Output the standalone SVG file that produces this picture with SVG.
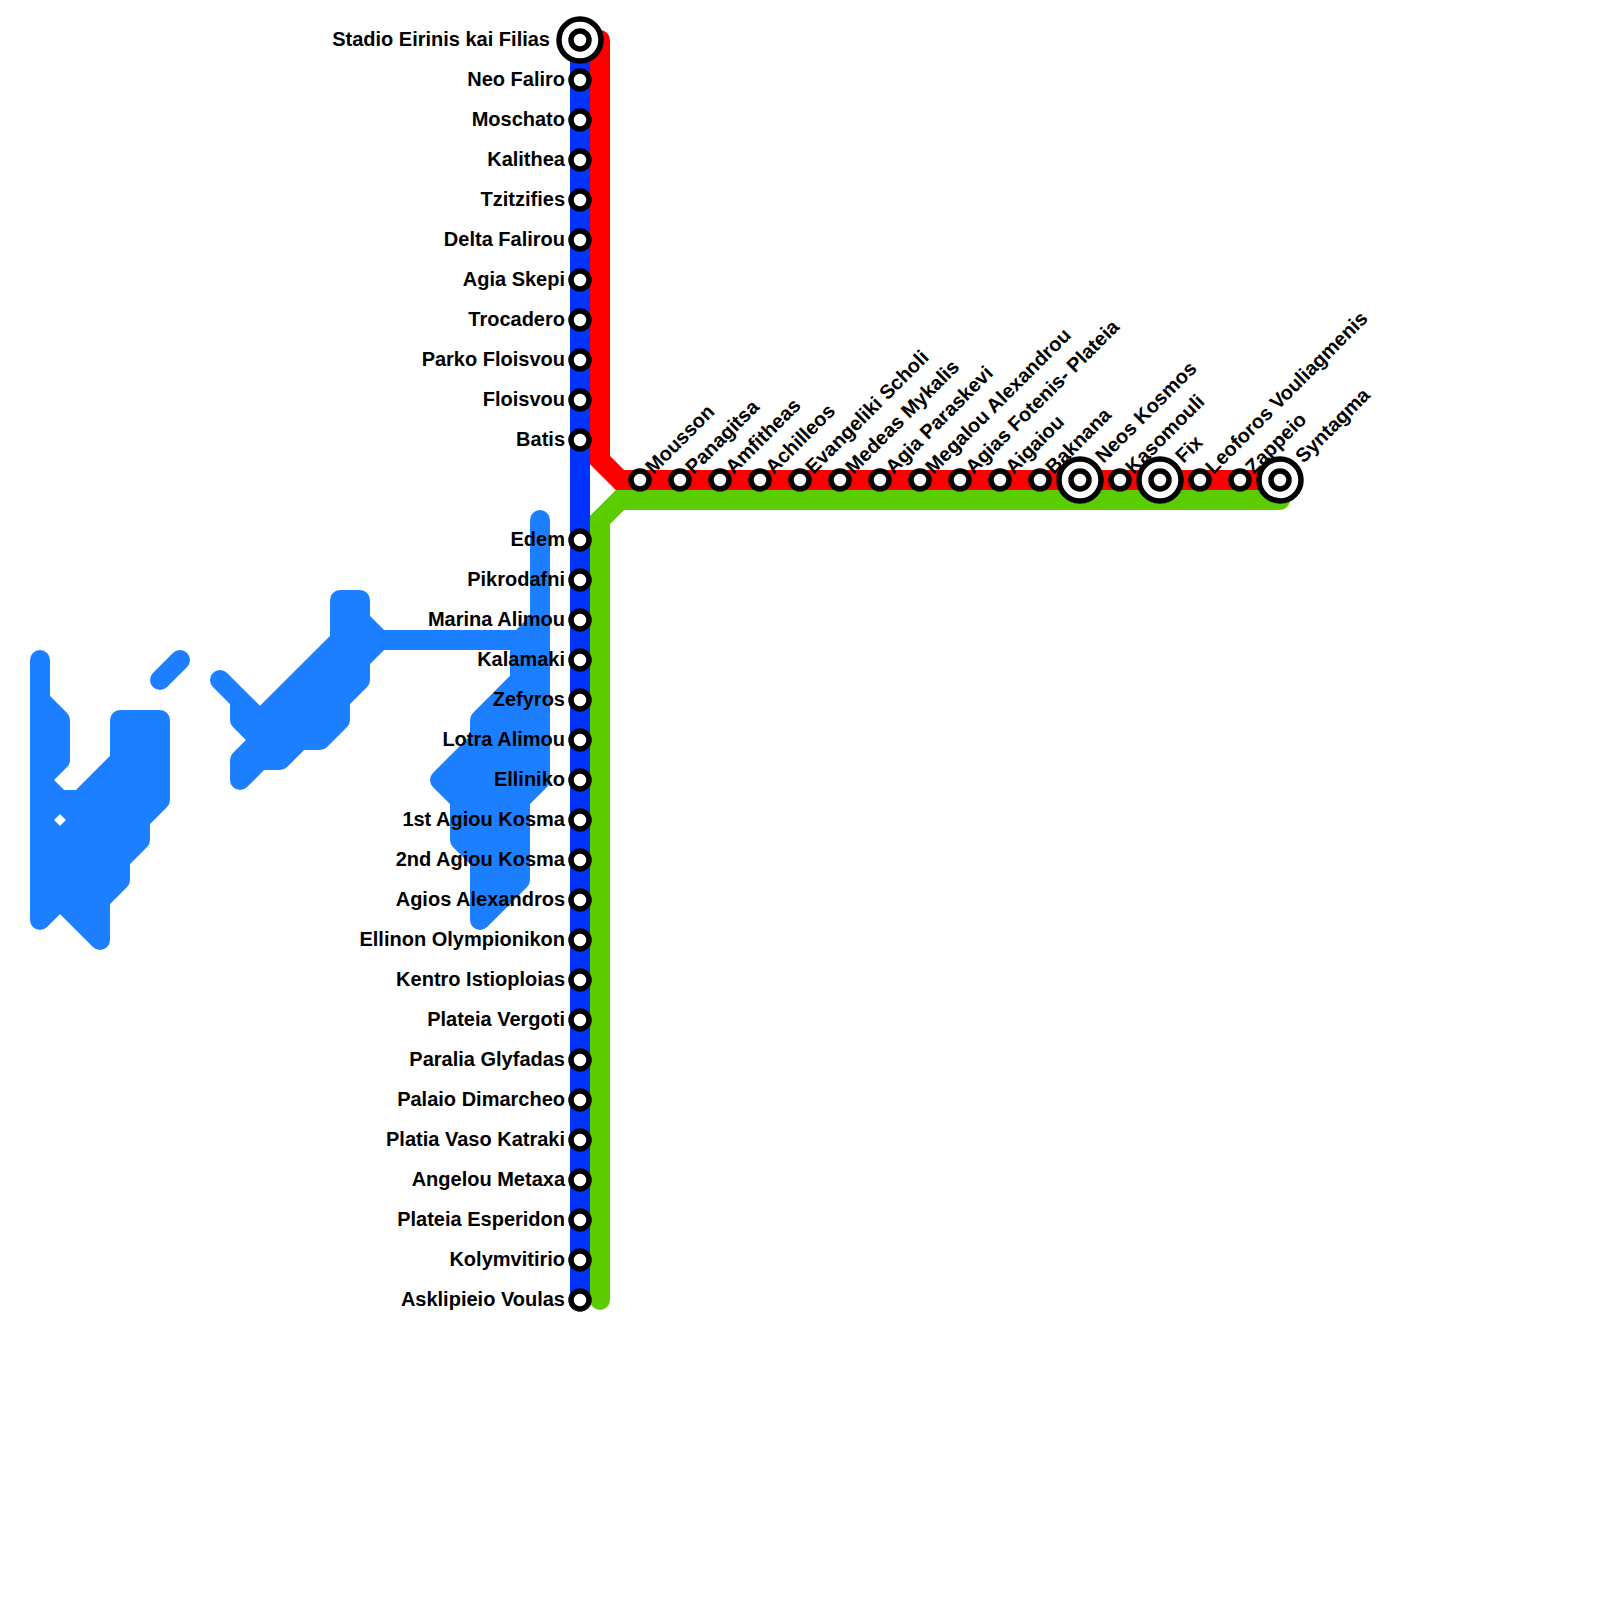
<svg xmlns="http://www.w3.org/2000/svg" width="1600" height="1600" viewBox="0 0 1600 1600">
<style>
.w{fill:#1c7fff;stroke:#1c7fff;stroke-width:20;stroke-linejoin:round;stroke-linecap:round;fill-rule:evenodd}
.l{fill:none;stroke-width:20;stroke-linejoin:miter;stroke-linecap:round}
.s{fill:#fff;stroke:#000;stroke-width:5.5}
text{font-family:"Liberation Sans",Arial,sans-serif;font-weight:700;font-size:20px;fill:#000}
.e{text-anchor:end}
</style>
<rect width="1600" height="1600" fill="#fff"/>
<g id="water">
<path class="w" d="M40 660V700L60 720V760L40 780L60 800H80L120 760V720H160V800L140 820V840L120 860V880L100 900V940L60 900L40 920ZM60 800L80 820L60 840L40 820Z"/>
<path class="w" d="M160 680L180 660"/>
<path class="w" d="M220 680L240 700V720L260 740L240 760V780L260 760H280L300 740H320L340 720V700L360 680V660L380 640L360 620V600H340V640L260 720L240 700Z"/>
<path class="w" d="M380 640H520"/>
<path class="w" d="M540 520V780L520 800V880L480 920V860L460 840V800L440 780L480 740V720L520 680V640L540 620Z"/>
</g>
<g id="connectors">
<path class="l" stroke="#0033ff" d="M580 40V1300"/>
<path class="l" stroke="#ff0000" d="M600 40V460L620 480H1280"/>
<path class="l" stroke="#5acc00" d="M600 1300V520L620 500H1280"/>
</g>
<g id="stations">
<g id="n1"><circle class="s" cx="580" cy="40" r="21"/><circle class="s" cx="580" cy="40" r="9"/><text class="e" x="550" y="45.5">Stadio Eirinis kai Filias</text></g>
<g id="n2"><circle class="s" cx="580" cy="80" r="9"/><text class="e" x="565" y="85.5">Neo Faliro</text></g>
<g id="n3"><circle class="s" cx="580" cy="120" r="9"/><text class="e" x="565" y="125.5">Moschato</text></g>
<g id="n4"><circle class="s" cx="580" cy="160" r="9"/><text class="e" x="565" y="165.5">Kalithea</text></g>
<g id="n5"><circle class="s" cx="580" cy="200" r="9"/><text class="e" x="565" y="205.5">Tzitzifies</text></g>
<g id="n6"><circle class="s" cx="580" cy="240" r="9"/><text class="e" x="565" y="245.5">Delta Falirou</text></g>
<g id="n7"><circle class="s" cx="580" cy="280" r="9"/><text class="e" x="565" y="285.5">Agia Skepi</text></g>
<g id="n8"><circle class="s" cx="580" cy="320" r="9"/><text class="e" x="565" y="325.5">Trocadero</text></g>
<g id="n9"><circle class="s" cx="580" cy="360" r="9"/><text class="e" x="565" y="365.5">Parko Floisvou</text></g>
<g id="n10"><circle class="s" cx="580" cy="400" r="9"/><text class="e" x="565" y="405.5">Floisvou</text></g>
<g id="n11"><circle class="s" cx="580" cy="440" r="9"/><text class="e" x="565" y="445.5">Batis</text></g>
<g id="n12"><circle class="s" cx="580" cy="540" r="9"/><text class="e" x="565" y="545.5">Edem</text></g>
<g id="n13"><circle class="s" cx="580" cy="580" r="9"/><text class="e" x="565" y="585.5">Pikrodafni</text></g>
<g id="n14"><circle class="s" cx="580" cy="620" r="9"/><text class="e" x="565" y="625.5">Marina Alimou</text></g>
<g id="n15"><circle class="s" cx="580" cy="660" r="9"/><text class="e" x="565" y="665.5">Kalamaki</text></g>
<g id="n16"><circle class="s" cx="580" cy="700" r="9"/><text class="e" x="565" y="705.5">Zefyros</text></g>
<g id="n17"><circle class="s" cx="580" cy="740" r="9"/><text class="e" x="565" y="745.5">Lotra Alimou</text></g>
<g id="n18"><circle class="s" cx="580" cy="780" r="9"/><text class="e" x="565" y="785.5">Elliniko</text></g>
<g id="n19"><circle class="s" cx="580" cy="820" r="9"/><text class="e" x="565" y="825.5">1st Agiou Kosma</text></g>
<g id="n20"><circle class="s" cx="580" cy="860" r="9"/><text class="e" x="565" y="865.5">2nd Agiou Kosma</text></g>
<g id="n21"><circle class="s" cx="580" cy="900" r="9"/><text class="e" x="565" y="905.5">Agios Alexandros</text></g>
<g id="n22"><circle class="s" cx="580" cy="940" r="9"/><text class="e" x="565" y="945.5">Ellinon Olympionikon</text></g>
<g id="n23"><circle class="s" cx="580" cy="980" r="9"/><text class="e" x="565" y="985.5">Kentro Istioploias</text></g>
<g id="n24"><circle class="s" cx="580" cy="1020" r="9"/><text class="e" x="565" y="1025.5">Plateia Vergoti</text></g>
<g id="n25"><circle class="s" cx="580" cy="1060" r="9"/><text class="e" x="565" y="1065.5">Paralia Glyfadas</text></g>
<g id="n26"><circle class="s" cx="580" cy="1100" r="9"/><text class="e" x="565" y="1105.5">Palaio Dimarcheo</text></g>
<g id="n27"><circle class="s" cx="580" cy="1140" r="9"/><text class="e" x="565" y="1145.5">Platia Vaso Katraki</text></g>
<g id="n28"><circle class="s" cx="580" cy="1180" r="9"/><text class="e" x="565" y="1185.5">Angelou Metaxa</text></g>
<g id="n29"><circle class="s" cx="580" cy="1220" r="9"/><text class="e" x="565" y="1225.5">Plateia Esperidon</text></g>
<g id="n30"><circle class="s" cx="580" cy="1260" r="9"/><text class="e" x="565" y="1265.5">Kolymvitirio</text></g>
<g id="n31"><circle class="s" cx="580" cy="1300" r="9"/><text class="e" x="565" y="1305.5">Asklipieio Voulas</text></g>
<g id="n32"><circle class="s" cx="640" cy="480" r="9"/><text transform="translate(653.5 475) rotate(-45)">Mousson</text></g>
<g id="n33"><circle class="s" cx="680" cy="480" r="9"/><text transform="translate(693.5 475) rotate(-45)">Panagitsa</text></g>
<g id="n34"><circle class="s" cx="720" cy="480" r="9"/><text transform="translate(733.5 475) rotate(-45)">Amfitheas</text></g>
<g id="n35"><circle class="s" cx="760" cy="480" r="9"/><text transform="translate(773.5 475) rotate(-45)">Achilleos</text></g>
<g id="n36"><circle class="s" cx="800" cy="480" r="9"/><text transform="translate(813.5 475) rotate(-45)">Evangeliki Scholi</text></g>
<g id="n37"><circle class="s" cx="840" cy="480" r="9"/><text transform="translate(853.5 475) rotate(-45)">Medeas Mykalis</text></g>
<g id="n38"><circle class="s" cx="880" cy="480" r="9"/><text transform="translate(893.5 475) rotate(-45)">Agia Paraskevi</text></g>
<g id="n39"><circle class="s" cx="920" cy="480" r="9"/><text transform="translate(933.5 475) rotate(-45)">Megalou Alexandrou</text></g>
<g id="n40"><circle class="s" cx="960" cy="480" r="9"/><text transform="translate(973.5 475) rotate(-45)">Agias Fotenis- Plateia</text></g>
<g id="n41"><circle class="s" cx="1000" cy="480" r="9"/><text transform="translate(1013.5 475) rotate(-45)">Aigaiou</text></g>
<g id="n42"><circle class="s" cx="1040" cy="480" r="9"/><text transform="translate(1053.5 475) rotate(-45)">Baknana</text></g>
<g id="n43"><circle class="s" cx="1080" cy="480" r="21"/><circle class="s" cx="1080" cy="480" r="9"/><text transform="translate(1103.5 464) rotate(-45)">Neos Kosmos</text></g>
<g id="n44"><circle class="s" cx="1120" cy="480" r="9"/><text transform="translate(1133.5 475) rotate(-45)">Kasomouli</text></g>
<g id="n45"><circle class="s" cx="1160" cy="480" r="21"/><circle class="s" cx="1160" cy="480" r="9"/><text transform="translate(1183.5 464) rotate(-45)">Fix</text></g>
<g id="n46"><circle class="s" cx="1200" cy="480" r="9"/><text transform="translate(1213.5 475) rotate(-45)">Leoforos Vouliagmenis</text></g>
<g id="n47"><circle class="s" cx="1240" cy="480" r="9"/><text transform="translate(1253.5 475) rotate(-45)">Zappeio</text></g>
<g id="n48"><circle class="s" cx="1280" cy="480" r="21"/><circle class="s" cx="1280" cy="480" r="9"/><text transform="translate(1303.5 464) rotate(-45)">Syntagma</text></g>
</g>
</svg>
